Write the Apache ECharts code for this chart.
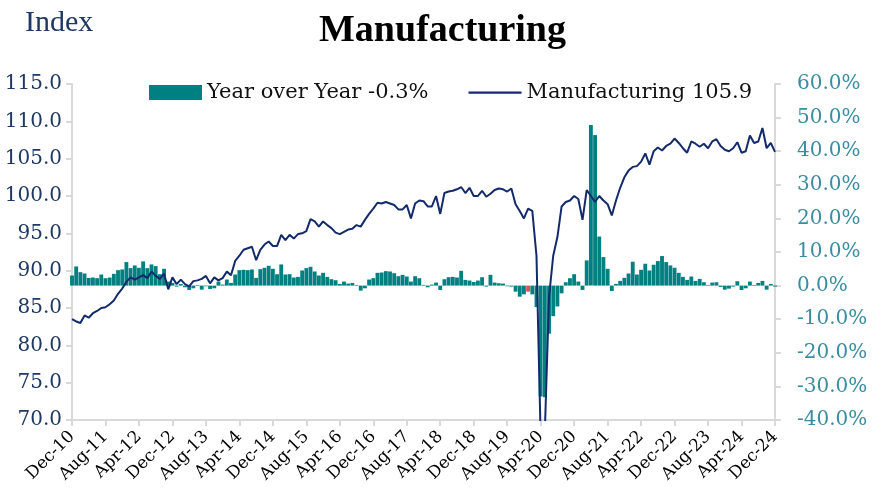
<!DOCTYPE html>
<html>
<head>
<meta charset="utf-8">
<script src="https://cdn.jsdelivr.net/npm/echarts@6/dist/echarts.min.js"></script>
<style>
html,body{margin:0;padding:0;background:#fff;}
#chart{width:885px;height:502px;}
</style>
</head>
<body>
<div id="chart"></div>
<script>
// ---- Data (monthly, Dec-10 .. Dec-24) ----
const monthNames = ['Jan','Feb','Mar','Apr','May','Jun','Jul','Aug','Sep','Oct','Nov','Dec'];
const startYear = 2010, startMonth = 11; // Dec-10
const monthCount = 169;
const categories = [];
for (let k = 0; k < monthCount; k++) {
  const m = (startMonth + k) % 12;
  const y = startYear + Math.floor((startMonth + k) / 12);
  categories.push(monthNames[m] + '-' + String(y % 100).padStart(2, '0'));
}

// Manufacturing index (left axis)
const manufacturing = [
  83.5,
  83.2, 83.0, 84.0, 83.7, 84.3, 84.6, 85.0, 85.1, 85.5, 86.0, 86.9, 87.6,
  88.5, 89.1, 88.8, 89.1, 89.4, 89.0, 89.9, 89.3, 88.9, 89.6, 87.5, 89.1,
  88.2, 88.8, 88.2, 87.9, 88.6, 88.7, 88.9, 89.3, 88.3, 89.1, 88.7, 89.0,
  89.9, 89.4, 91.3, 92.0, 92.8, 93.0, 93.2, 91.4, 92.8, 93.5, 93.9, 93.3,
  93.3, 94.8, 94.1, 94.8, 94.3, 94.9, 95.0, 95.3, 96.9, 96.6, 95.9, 96.6,
  96.1, 95.7, 95.1, 94.9, 95.2, 95.5, 95.6, 96.1, 95.9, 96.8, 97.6, 98.3,
  99.1, 99.0, 99.2, 99.0, 98.8, 98.2, 98.2, 98.8, 97.0, 99.0, 99.4, 99.3,
  98.6, 98.6, 100.0, 97.6, 100.4, 100.6, 100.7, 100.9, 101.2, 100.4, 101.1, 100.0,
  100.0, 100.7, 99.9, 100.3, 100.8, 101.0, 100.9, 100.6, 101.0, 98.9, 98.0, 97.0,
  98.3, 98.0, 92.0, 67.7, 68.5, 86.5, 92.0, 94.5, 98.6, 99.2, 99.4, 100.0,
  99.6, 96.8, 100.8, 100.0, 99.2, 100.0, 99.4, 98.9, 97.4, 99.4, 101.1, 102.5,
  103.4, 103.9, 104.0, 104.6, 105.7, 104.2, 106.0, 106.5, 106.1, 106.7, 107.0, 107.7,
  107.1, 106.4, 105.8, 107.3, 107.0, 106.6, 107.0, 106.4, 107.3, 107.6, 106.7, 106.2,
  106.0, 106.4, 107.2, 105.8, 106.0, 108.1, 107.1, 107.3, 109.1, 106.4, 107.1, 105.9
];

// Year over Year % (right axis)
const yearOverYear = [
  3.0,
  5.7, 4.0, 3.6, 2.3, 2.4, 2.2, 3.3, 2.2, 2.4, 3.5, 4.6, 4.8,
  7.0, 5.2, 6.0, 5.3, 7.2, 5.2, 6.3, 5.8, 3.4, 5.0, 1.2, 0.8,
  -0.3, 0.5, -0.5, -1.3, -0.8, 0.2, -1.2, -0.2, -1.0, -0.8, 1.2, 0.3,
  1.8, 0.8, 3.3, 4.6, 4.7, 4.6, 4.8, 2.3, 4.9, 5.3, 5.9, 5.0,
  3.4, 6.3, 3.3, 3.4, 2.4, 2.6, 4.5, 5.2, 5.6, 4.2, 3.0, 3.8,
  2.6, 1.9, 1.6, 0.5, 1.2, 0.6, 0.8, 0.2, -1.5, -0.8, 1.8, 2.2,
  3.8, 3.9, 4.3, 4.2, 3.7, 2.8, 3.2, 2.7, 1.2, 2.8, 2.2, 0.2,
  -0.5, 0.3, 0.9, -1.3, 1.9, 2.5, 2.6, 2.4, 4.4, 1.7, 1.5, 1.1,
  1.5, 2.5, -0.3, 3.2, 0.9, 0.7, 0.6, -0.2, -0.3, -1.8, -3.3, -2.6,
  -1.8, -2.6, -6.4, -33.0, -33.2, -14.3, -9.1, -6.2, -2.3, 1.0, 2.2, 3.4,
  1.2, -1.3, 7.5, 47.8, 44.8, 14.6, 8.5, 5.0, -1.6, 0.5, 1.4, 2.3,
  3.6, 7.1, 3.3, 4.7, 6.5, 4.5, 6.2, 7.3, 8.8, 7.0, 6.0, 5.3,
  3.8, 2.6, 1.7, 2.7, 1.4, 2.0, 1.0, 0.2, 0.9, 1.0, -0.4, -1.2,
  -0.9, -0.3, 1.3, -1.3, -0.8, 1.2, 0.2, 0.8, 1.4, -1.2, 0.5, -0.3
];
const flaggedMonth = 'Jan-20';

const legendBar = 'Year over Year -0.3%';
const legendLine = 'Manufacturing 105.9';

// ---- Styles ----
const SERIF = '"DejaVu Serif", serif';
const TITLE_SERIF = '"Liberation Serif", "Times New Roman", serif';
const AXIS_GREY = '#D9D9D9';
const LINE_ICON = 'path://M0,0 L53,0 L53,0.01 L0,0.01 Z M0,6.5 L53,6.5 L53,8.7 L0,8.7 Z M0,14.99 L53,14.99 L53,15 L0,15 Z';

const chart = echarts.init(document.getElementById('chart'), null, {renderer: 'canvas'});

const barData = yearOverYear.map((v, k) => categories[k] === flaggedMonth
  ? {value: v, itemStyle: {color: '#D9534F'}}
  : v);

chart.setOption({
  animation: false,
  backgroundColor: '#ffffff',
  title: [
    {text: 'Manufacturing', left: 'center', top: 7,
     textStyle: {fontFamily: TITLE_SERIF, fontSize: 38, fontWeight: 'bold', color: '#000'}},
    {text: 'Index', left: 20, top: 3,
     textStyle: {fontFamily: TITLE_SERIF, fontSize: 30, fontWeight: 'normal', color: '#1F3864'}}
  ],
  legend: {
    left: 144, top: 77,
    itemWidth: 53, itemHeight: 15, itemGap: 40,
    textStyle: {fontFamily: SERIF, fontSize: 21, color: '#111'},
    data: [{name: legendBar, icon: 'rect'}, {name: legendLine, icon: LINE_ICON}]
  },
  grid: {left: 72, right: 110, top: 84, bottom: 82, containLabel: false},
  xAxis: {
    type: 'category',
    data: categories,
    boundaryGap: false,
    axisLine: {show: true, onZero: false, lineStyle: {color: AXIS_GREY, width: 2}},
    axisTick: {show: true, interval: 7, length: 6, lineStyle: {color: AXIS_GREY, width: 2}},
    axisLabel: {interval: 7, rotate: 45, margin: 14, fontFamily: SERIF, fontSize: 17, color: '#000'},
    splitLine: {show: false}
  },
  yAxis: [
    {
      type: 'value', min: 70, max: 115, interval: 5, position: 'left',
      axisLine: {show: true, lineStyle: {color: AXIS_GREY, width: 2}},
      axisTick: {show: true, length: 6, lineStyle: {color: AXIS_GREY, width: 2}},
      axisLabel: {margin: 10, fontFamily: SERIF, fontSize: 20, color: '#1F3864',
                  formatter: v => v.toFixed(1)},
      splitLine: {show: false}
    },
    {
      type: 'value', min: -40, max: 60, interval: 10, position: 'right',
      axisLine: {show: true, lineStyle: {color: AXIS_GREY, width: 2}},
      axisTick: {show: true, length: 6, lineStyle: {color: AXIS_GREY, width: 2}},
      axisLabel: {margin: 22, fontFamily: SERIF, fontSize: 20, color: '#3A8C9F',
                  formatter: v => v.toFixed(1) + '%'},
      splitLine: {show: false}
    }
  ],
  series: [
    {
      name: legendBar, type: 'bar', yAxisIndex: 1, data: barData,
      barCategoryGap: '8%', clip: true,
      itemStyle: {color: '#008080'}
    },
    {
      name: legendLine, type: 'line', yAxisIndex: 0, data: manufacturing,
      symbol: 'none', clip: true, z: 5,
      lineStyle: {color: '#132A6B', width: 2},
      itemStyle: {color: '#132A6B'}
    }
  ]
});
</script>
</body>
</html>
